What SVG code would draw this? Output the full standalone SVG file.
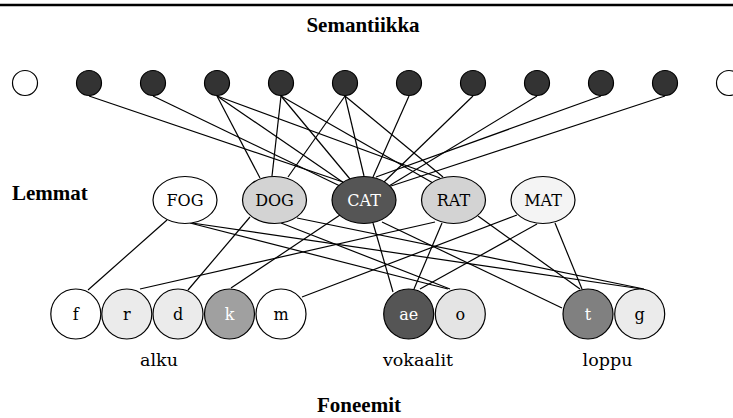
<svg xmlns="http://www.w3.org/2000/svg" width="733" height="418" viewBox="0 0 733 418">
  <style>
    .edge { stroke: #000; stroke-width: 1.2; fill: none; }
    .node { stroke: #000; stroke-width: 1.2; }
    .feat { fill: #333333; }
    .hollow { fill: #ffffff; }
    .title { font-family: "Liberation Serif", serif; font-weight: bold; font-size: 21px; fill: #000; }
    .lab { font-family: "DejaVu Serif", serif; font-size: 16px; text-anchor: middle; fill: #000; }
    .lab.inv { fill: #ffffff; }
    .group { font-family: "DejaVu Serif", serif; font-size: 17.5px; text-anchor: middle; fill: #000; }
  </style>

  <rect x="0" y="0" width="733" height="418" fill="#ffffff"/>
  <line x1="0" y1="5" x2="733" y2="5" stroke="#000" stroke-width="2.5"/>

  <text class="title" x="363" y="32" text-anchor="middle">Semantiikka</text>
  <text class="title" x="12" y="200">Lemmat</text>
  <text class="title" x="359" y="412" text-anchor="middle">Foneemit</text>

  <g id="connectors">
    <!-- semantic features to lemmas -->
    <line class="edge" x1="89" y1="96" x2="343" y2="182"/>
    <line class="edge" x1="153" y1="96" x2="340" y2="186"/>
    <line class="edge" x1="217" y1="96" x2="344" y2="183"/>
    <line class="edge" x1="281" y1="96" x2="350" y2="179"/>
    <line class="edge" x1="345" y1="96" x2="364" y2="176"/>
    <line class="edge" x1="409" y1="96" x2="373" y2="177"/>
    <line class="edge" x1="473" y1="96" x2="384" y2="182"/>
    <line class="edge" x1="537" y1="96" x2="389" y2="186"/>
    <line class="edge" x1="601" y1="96" x2="376" y2="177"/>
    <line class="edge" x1="665" y1="96" x2="391" y2="186"/>
    <line class="edge" x1="217" y1="96" x2="260" y2="178"/>
    <line class="edge" x1="281" y1="96" x2="272" y2="176"/>
    <line class="edge" x1="345" y1="96" x2="288" y2="177"/>
    <line class="edge" x1="217" y1="96" x2="440" y2="178"/>
    <line class="edge" x1="281" y1="96" x2="433" y2="183"/>
    <line class="edge" x1="345" y1="96" x2="443" y2="177"/>
    <!-- lemmas to phonemes -->
    <line class="edge" x1="167" y1="220" x2="88" y2="290"/>
    <line class="edge" x1="190" y1="223" x2="448" y2="289"/>
    <line class="edge" x1="192" y1="223" x2="642" y2="289"/>
    <line class="edge" x1="250" y1="217" x2="188" y2="290"/>
    <line class="edge" x1="281" y1="223" x2="450" y2="289"/>
    <line class="edge" x1="297" y1="218" x2="644" y2="289"/>
    <line class="edge" x1="340" y1="215" x2="231" y2="288"/>
    <line class="edge" x1="373" y1="223" x2="393" y2="292"/>
    <line class="edge" x1="382" y1="222" x2="562" y2="308"/>
    <line class="edge" x1="435" y1="222" x2="140" y2="289"/>
    <line class="edge" x1="442" y1="223" x2="414" y2="289"/>
    <line class="edge" x1="478" y1="216" x2="580" y2="289"/>
    <line class="edge" x1="517" y1="215" x2="302" y2="297"/>
    <line class="edge" x1="537" y1="224" x2="420" y2="289"/>
    <line class="edge" x1="555" y1="223" x2="582" y2="289"/>
  </g>

  <!-- semantic feature units -->
  <g id="sem0"><circle class="node hollow" cx="25" cy="83" r="12.5"/></g>
  <g id="sem1"><circle class="node feat" cx="89" cy="83" r="12.5"/></g>
  <g id="sem2"><circle class="node feat" cx="153" cy="83" r="12.5"/></g>
  <g id="sem3"><circle class="node feat" cx="217" cy="83" r="12.5"/></g>
  <g id="sem4"><circle class="node feat" cx="281" cy="83" r="12.5"/></g>
  <g id="sem5"><circle class="node feat" cx="345" cy="83" r="12.5"/></g>
  <g id="sem6"><circle class="node feat" cx="409" cy="83" r="12.5"/></g>
  <g id="sem7"><circle class="node feat" cx="473" cy="83" r="12.5"/></g>
  <g id="sem8"><circle class="node feat" cx="537" cy="83" r="12.5"/></g>
  <g id="sem9"><circle class="node feat" cx="601" cy="83" r="12.5"/></g>
  <g id="sem10"><circle class="node feat" cx="665" cy="83" r="12.5"/></g>
  <g id="sem11"><circle class="node hollow" cx="729" cy="83" r="12.5"/></g>

  <!-- lemma units -->
  <g id="fog"><ellipse class="node" cx="185" cy="200" rx="32" ry="23.5" fill="#ffffff"/><text class="lab" x="185" y="206">FOG</text></g>
  <g id="dog"><ellipse class="node" cx="274.5" cy="200" rx="32" ry="23.5" fill="#d3d3d3"/><text class="lab" x="274.5" y="206">DOG</text></g>
  <g id="cat"><ellipse class="node" cx="364" cy="200" rx="32" ry="23.5" fill="#555555"/><text class="lab inv" x="364" y="206">CAT</text></g>
  <g id="rat"><ellipse class="node" cx="453.5" cy="200" rx="32" ry="23.5" fill="#d3d3d3"/><text class="lab" x="453.5" y="206">RAT</text></g>
  <g id="mat"><ellipse class="node" cx="543" cy="200" rx="32" ry="23.5" fill="#f4f4f4"/><text class="lab" x="543" y="206">MAT</text></g>

  <!-- phoneme units -->
  <g id="ph-f"><circle class="node" cx="75.8" cy="314" r="25" fill="#ffffff"/><text class="lab" x="75.8" y="320">f</text></g>
  <g id="ph-r"><circle class="node" cx="126.8" cy="314" r="25" fill="#ebebeb"/><text class="lab" x="126.8" y="320">r</text></g>
  <g id="ph-d"><circle class="node" cx="178" cy="314" r="25" fill="#ebebeb"/><text class="lab" x="178" y="320">d</text></g>
  <g id="ph-k"><circle class="node" cx="229.5" cy="314" r="25" fill="#a0a0a0"/><text class="lab inv" x="229.5" y="320">k</text></g>
  <g id="ph-m"><circle class="node" cx="281" cy="314" r="25" fill="#ffffff"/><text class="lab" x="281" y="320">m</text></g>
  <g id="ph-ae"><circle class="node" cx="408.7" cy="314" r="25" fill="#555555"/><text class="lab inv" x="408.7" y="320">ae</text></g>
  <g id="ph-o"><circle class="node" cx="460.3" cy="314" r="25" fill="#e4e4e4"/><text class="lab" x="460.3" y="320">o</text></g>
  <g id="ph-t"><circle class="node" cx="588" cy="314" r="25" fill="#808080"/><text class="lab inv" x="588" y="320">t</text></g>
  <g id="ph-g"><circle class="node" cx="639.7" cy="314" r="25" fill="#ebebeb"/><text class="lab" x="639.7" y="320">g</text></g>

  <text class="group" x="159" y="366">alku</text>
  <text class="group" x="418" y="366">vokaalit</text>
  <text class="group" x="607.5" y="366">loppu</text>
</svg>
